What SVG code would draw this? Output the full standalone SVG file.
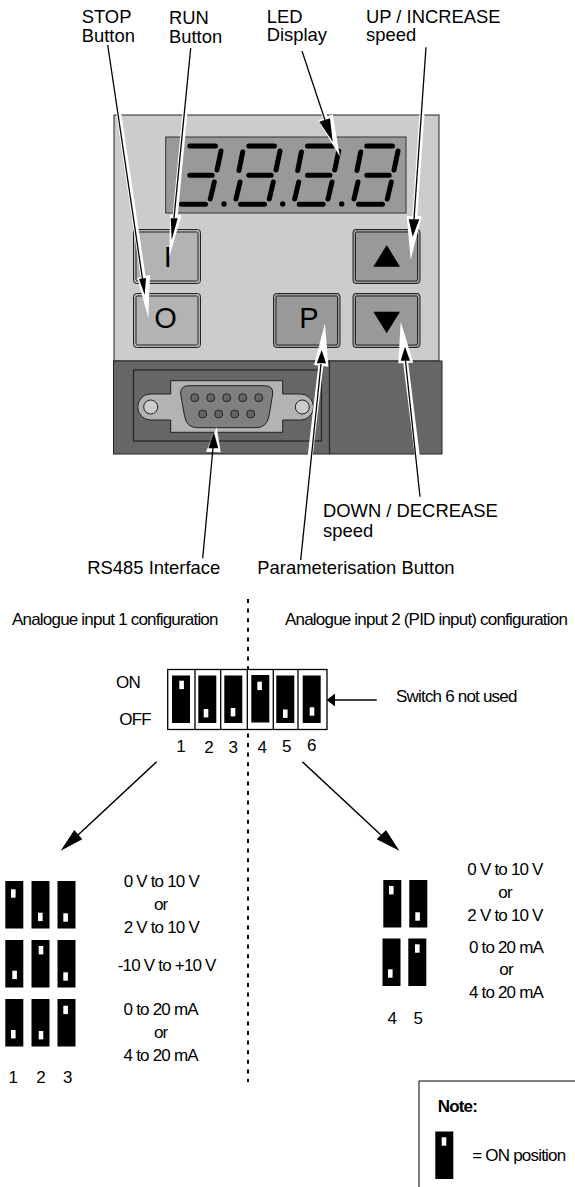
<svg xmlns="http://www.w3.org/2000/svg" xmlns:xlink="http://www.w3.org/1999/xlink" width="575" height="1187" viewBox="0 0 575 1187">
<style>
text{font-family:"Liberation Sans",Arial,sans-serif;fill:#000}
.l{font-size:18.4px}
.c{font-size:17px;letter-spacing:-.8px}
.m{text-anchor:middle}
.n{font-size:17px;text-anchor:middle}
.seg{stroke:#000;stroke-width:5;stroke-linecap:round;fill:none}
.btn{stroke:#222;stroke-width:1}
.inner{fill:none;stroke:#222;stroke-width:1}
.pin{fill:#666;stroke:#222;stroke-width:1}
.lever{fill:#000}
.nub{fill:#fff}
.halo{stroke:#fff;stroke-width:5;fill:none}
.ln{stroke:#000;stroke-width:1.3;fill:none}
.wh{fill:#fff}
.bk{fill:#000}
</style>
<defs>
<g id="segs-r"><path class="seg" d="M248.8 146H274.5M280 151 276 170M248.8 175.3H271.2M273.3 182 269.3 199M240.5 204.3H264.5"/></g>
<g id="digit8"><use href="#segs-r"/><path class="seg" d="M242.7 152 239 170.5M240 182 236 199"/></g>
<rect id="lev" class="lever" width="18" height="47.5"/>
<rect id="nub" class="nub" width="4.6" height="8.4"/>
</defs>
<rect width="575" height="1187" fill="#fff"/>

<g id="panel">
<rect x="114" y="115" width="325" height="246" fill="#ccc" stroke="#222" stroke-width="1"/>
<rect x="113.5" y="361" width="328.5" height="93" fill="#666" stroke="#222" stroke-width="1"/>
<path d="M329.5 361V454" stroke="#222" stroke-width="1.2"/>
</g>

<g id="led-display">
<rect x="165.7" y="137" width="240.3" height="76" fill="#999" stroke="#333" stroke-width="1"/>
<use href="#segs-r" x="-59"/>
<use href="#digit8"/>
<use href="#digit8" x="58.7"/>
<use href="#digit8" x="118"/>
<circle cx="224" cy="204" r="2.7"/><circle cx="282.7" cy="204" r="2.7"/><circle cx="341.7" cy="204" r="2.7"/>
</g>

<g id="btn-run"><rect class="btn" x="133.5" y="229.5" width="67" height="54" rx="3" fill="#b3b3b3"/><rect class="inner" x="136" y="232" width="62" height="49" rx="1.5"/><text x="167.7" y="267.3" font-size="29" class="m">I</text></g>
<g id="btn-stop"><rect class="btn" x="133.5" y="293.5" width="67" height="54" rx="3" fill="#b3b3b3"/><rect class="inner" x="136" y="296" width="62" height="49" rx="1.5"/><text x="165.5" y="328.3" font-size="29" class="m">O</text></g>
<g id="btn-param"><rect class="btn" x="273.5" y="293.5" width="66.5" height="54" rx="3" fill="#999"/><rect class="inner" x="276" y="296" width="61.5" height="49" rx="1.5"/><text x="309" y="328.3" font-size="29" class="m">P</text></g>
<g id="btn-up"><rect class="btn" x="353" y="229.5" width="67" height="54" rx="3" fill="#999"/><rect class="inner" x="355.5" y="232" width="62" height="49" rx="1.5"/><path d="M386.7 245 400 266.7H373.3Z"/></g>
<g id="btn-down"><rect class="btn" x="353" y="293.5" width="67" height="54" rx="3" fill="#999"/><rect class="inner" x="355.5" y="296" width="62" height="49" rx="1.5"/><path d="M386.7 333.3 400 311.7H373.3Z"/></g>

<g id="rs485-port">
<rect x="133.5" y="370" width="188" height="71" fill="#666" stroke="#222" stroke-width="1.2"/>
<path d="M170.7 380.7H282.7V394H300.5A13 13 0 0 1 300.5 420H282.7V432.3H170.7V420H150.7A13 13 0 0 1 150.7 394H170.7Z" fill="#b3b3b3" stroke="#222" stroke-width="1"/>
<circle cx="150.7" cy="407" r="7" fill="#ccc" stroke="#222"/>
<circle cx="302.3" cy="407" r="7" fill="#ccc" stroke="#222"/>
<path d="M189 385.7H264.5Q273.5 385.7 272.7 394L269 416Q267 427.7 256 427.7H197.5Q186.5 427.7 184.5 416L180.7 394Q180 385.7 189 385.7Z" fill="#808080" stroke="#222" stroke-width="1"/>
<circle class="pin" cx="194.7" cy="397.7" r="4"/><circle class="pin" cx="210.7" cy="397.7" r="4"/><circle class="pin" cx="226.7" cy="397.7" r="4"/><circle class="pin" cx="242.7" cy="397.7" r="4"/><circle class="pin" cx="258.7" cy="397.7" r="4"/>
<circle class="pin" cx="202.7" cy="414" r="4"/><circle class="pin" cx="218.7" cy="414" r="4"/><circle class="pin" cx="234.7" cy="414" r="4"/><circle class="pin" cx="250.7" cy="414" r="4"/>
</g>

<g id="connectors">
<path class="halo" d="M108.5 45 143.5 279"/><path class="wh" d="M137.3 278 150 275 148.3 318Z"/><path class="ln" d="M107.7 45 142.5 279"/><path class="bk" d="M139 279 146 278 144.7 295Z"/>
<path class="halo" d="M191 48 175 218"/><path class="wh" d="M170 215 181.7 215 169.3 256.7Z"/><path class="ln" d="M190.7 48 174 218"/><path class="bk" d="M170.7 218.3 177.7 218.3 171.7 240Z"/>
<path class="halo" d="M302.7 51 326 120"/><path class="wh" d="M318.3 120.7 332.7 114.3 340 156.7Z"/><path class="ln" d="M302 51 325 120"/><path class="bk" d="M319.3 121.7 330 118.3 332.7 141.7Z"/>
<path class="halo" d="M426.5 47.3 414.7 219"/><path class="wh" d="M406.7 216 421.7 216 410.7 260Z"/><path class="ln" d="M426 47.3 414 219"/><path class="bk" d="M408.7 219.3 419.3 219.3 412.7 236.7Z"/>
<path class="halo" d="M301.5 530 321 364"/><path class="wh" d="M314 365 328.3 366.7 325 323.3Z"/><path class="ln" d="M300.7 560 321 364"/><path class="bk" d="M316.7 363.3 326 363.3 321.7 350Z"/>
<path class="halo" d="M419 470 405.5 361"/><path class="wh" d="M398.3 363.3 413.3 362.7 400.7 321.7Z"/><path class="ln" d="M420 496.7 405.5 361"/><path class="bk" d="M400.7 360.7 410 360.7 405 346.7Z"/>
<path class="wh" d="M206 451.7 220.7 452.3 216.7 427.3Z"/><path class="ln" d="M202.7 558.3 213 448"/><path class="bk" d="M208.3 448.3 218.3 448.3 214 432.7Z"/>
<path d="M248 599V1082" stroke="#000" stroke-width="2" stroke-dasharray="4 5.6" fill="none"/>
<path class="ln" d="M376.7 700H334"/><path class="bk" d="M326.7 700 335 693.5V706.5Z"/>
<path d="M156.7 761.7 78 835" stroke="#000" stroke-width="1.5"/><path class="bk" d="M60.7 850.7 74.3 830 82.3 839.3Z"/>
<path d="M302.3 761.7 381 835" stroke="#000" stroke-width="1.5"/><path class="bk" d="M399.3 850.7 386 830 376.7 839.3Z"/>
</g>

<g id="labels">
<text class="l"><tspan x="81.7" y="23">STOP</tspan><tspan x="81.7" y="41.5">Button</tspan></text>
<text class="l"><tspan x="169" y="23.5">RUN</tspan><tspan x="169" y="42.5">Button</tspan></text>
<text class="l"><tspan x="266.7" y="22.5">LED</tspan><tspan x="266.7" y="41">Display</tspan></text>
<text class="l"><tspan x="366" y="23">UP / INCREASE</tspan><tspan x="366" y="41">speed</tspan></text>
<text class="l"><tspan x="323" y="517">DOWN / DECREASE</tspan><tspan x="323" y="536.5">speed</tspan></text>
<text class="l" x="87.3" y="574">RS485 Interface</text>
<text class="l" x="257.3" y="574">Parameterisation Button</text>
<text class="c" x="12" y="625">Analogue input 1 configuration</text>
<text class="c" x="285" y="625">Analogue input 2 (PID input) configuration</text>
<text class="c" x="116" y="688">ON</text><text class="c" x="119.3" y="725">OFF</text>
<text class="c" x="396" y="701.7">Switch 6 not used</text>
</g>

<g id="dip-switch">
<rect x="167.7" y="669.5" width="159.3" height="60" fill="#fff" stroke="#000" stroke-width="1.3"/>
<path d="M195 669.5V729.5M220.7 669.5V729.5M247.3 669.5V729.5M273.3 669.5V729.5M298 669.5V729.5" stroke="#000" stroke-width="1.3"/>
<use href="#lev" x="172" y="675.5"/><use href="#lev" x="198.3" y="675.5"/><use href="#lev" x="224.3" y="675.5"/><use href="#lev" x="251.3" y="675"/><use href="#lev" x="276.3" y="675.5"/><use href="#lev" x="302.7" y="675.5"/>
<use href="#nub" x="179.3" y="680.7"/><use href="#nub" x="203.7" y="709"/><use href="#nub" x="230.7" y="708"/><use href="#nub" x="257.3" y="681.7"/><use href="#nub" x="283" y="709.5"/><use href="#nub" x="309.7" y="707.3"/>
<text class="n" x="181" y="751.7">1</text><text class="n" x="209" y="753.3">2</text><text class="n" x="233.3" y="753.3">3</text><text class="n" x="262.3" y="752.7">4</text><text class="n" x="286.7" y="752">5</text><text class="n" x="311.7" y="750.7">6</text>
</g>

<g id="input1-settings">
<use href="#lev" x="5.3" y="881"/><use href="#lev" x="31.5" y="881"/><use href="#lev" x="57.5" y="881"/>
<use href="#lev" x="5.3" y="940"/><use href="#lev" x="31.5" y="940"/><use href="#lev" x="57.5" y="940"/>
<use href="#lev" x="5.3" y="999"/><use href="#lev" x="31.5" y="999"/><use href="#lev" x="57.5" y="999"/>
<use href="#nub" x="11" y="889.3"/><use href="#nub" x="38" y="912.7"/><use href="#nub" x="63.3" y="913.3"/>
<use href="#nub" x="12.3" y="970.7"/><use href="#nub" x="38.7" y="946"/><use href="#nub" x="63.3" y="972.3"/>
<use href="#nub" x="11" y="1030"/><use href="#nub" x="38.7" y="1031"/><use href="#nub" x="63.3" y="1005.7"/>
<text class="n" x="13.3" y="1083.3">1</text><text class="n" x="41" y="1083.3">2</text><text class="n" x="67.7" y="1083.3">3</text>
<text class="c m" x="161.3" y="886.7">0 V to 10 V</text><text class="c m" x="160.7" y="910">or</text><text class="c m" x="161.3" y="933.3">2 V to 10 V</text>
<text class="c m" x="166.7" y="970.7">-10 V to +10 V</text>
<text class="c m" x="160.7" y="1015">0 to 20 mA</text><text class="c m" x="160.7" y="1037.7">or</text><text class="c m" x="160.7" y="1060.7">4 to 20 mA</text>
</g>

<g id="input2-settings">
<use href="#lev" x="383.3" y="880"/><use href="#lev" x="409.3" y="880"/><use href="#lev" x="382.5" y="938.5"/><use href="#lev" x="408.3" y="938.5"/>
<use href="#nub" x="389" y="886"/><use href="#nub" x="415.3" y="912.3"/><use href="#nub" x="388" y="969.3"/><use href="#nub" x="415" y="944.3"/>
<text class="n" x="392.3" y="1024">4</text><text class="n" x="418.3" y="1024">5</text>
<text class="c m" x="505" y="875">0 V to 10 V</text><text class="c m" x="505" y="898.3">or</text><text class="c m" x="505" y="920.7">2 V to 10 V</text>
<text class="c m" x="506" y="952.7">0 to 20 mA</text><text class="c m" x="506" y="975">or</text><text class="c m" x="506" y="998.3">4 to 20 mA</text>
</g>

<g id="note">
<path d="M575 1081H419V1187" fill="none" stroke="#000" stroke-width="1"/>
<text x="437.7" y="1111.7" font-size="17" font-weight="bold" letter-spacing="-.8">Note:</text>
<use href="#lev" x="435.3" y="1131.5"/><use href="#nub" x="441.7" y="1137.3"/>
<text class="c" x="472.3" y="1161">= ON position</text>
</g>
</svg>
